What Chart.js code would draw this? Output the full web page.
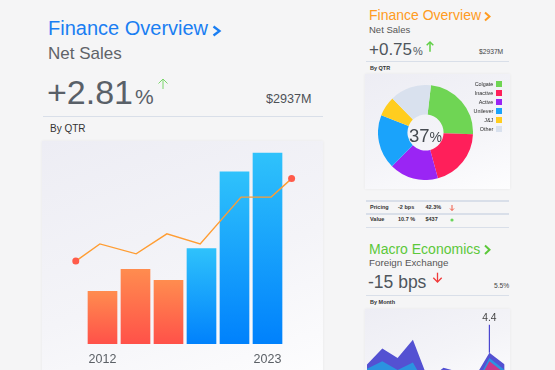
<!DOCTYPE html>
<html>
<head>
<meta charset="utf-8">
<script src="https://cdn.jsdelivr.net/npm/chart.js@4.4.1/dist/chart.umd.min.js"></script>
<style>
    html, body {
        margin: 0;
        padding: 0;
        width: 555px;
        height: 370px;
        overflow: hidden;
        background: #f5f5f6;
        font-family: "Liberation Sans", Arial, sans-serif;
    }
    .t {
        position: absolute;
        line-height: 1;
        white-space: nowrap;
    }
    .card {
        position: absolute;
        background: linear-gradient(160deg, #ededf4 0%, #f4f4f8 55%, #fdfdfe 100%);
        box-shadow: 0 0 3px rgba(0, 0, 0, 0.06);
    }
    .rule {
        position: absolute;
        height: 1px;
        background: #d9dfe9;
    }
    canvas {
        position: absolute;
    }
    .legend-row {
        position: absolute;
        left: 430px;
        width: 72px;
        height: 9px;
        display: flex;
        justify-content: flex-end;
        align-items: center;
        font-size: 5.4px;
        color: #2a2a2a;
    }
    .legend-row span.box {
        display: inline-block;
        width: 5.7px;
        height: 5.3px;
        margin-left: 3px;
    }
    .small {
        font-size: 5.5px;
        color: #333;
        font-weight: bold;
    }
</style>
</head>
<body>

<!-- main card -->
<div class="t" style="left:48px; top:18px; font-size:20px; color:#1a7ef2;">Finance Overview</div>
<div class="t" style="left:48px; top:44.5px; font-size:17px; color:#606368;">Net Sales</div>
<div class="t" style="left:47px; top:74.8px; font-size:34px; color:#596068;">+2.81<span style="font-size:21px; margin-left:2px;">%</span></div>
<div class="t" style="left:266px; top:92.7px; font-size:12.6px; color:#4d5157;">$2937M</div>
<div class="rule" style="left:43px; top:116px; width:280px;"></div>
<div class="t" style="left:50px; top:123.7px; font-size:10px; color:#333;">By QTR</div>
<div class="card" style="left:42px; top:141px; width:281px; height:240px;"></div>
<canvas id="salesChart" width="281" height="237" style="left:42px; top:141px;"></canvas>

<!-- right column: pie -->
<div class="t" style="left:369px; top:8.2px; font-size:14px; color:#ff9b22;">Finance Overview</div>
<div class="t" style="left:369px; top:24.5px; font-size:9.5px; color:#555;">Net Sales</div>
<div class="t" style="left:369px; top:41.1px; font-size:17px; color:#4f555c;">+0.75<span style="font-size:11px; margin-left:1px;">%</span></div>
<div class="t" style="left:479px; top:49.1px; font-size:6.7px; color:#444;">$2937M</div>
<div class="rule" style="left:366px; top:61px; width:143px;"></div>
<div class="t small" style="left:370px; top:66px;">By QTR</div>
<div class="card" style="left:365px; top:74px; width:145px; height:115px;"></div>
<canvas id="shareChart" width="95" height="95" style="left:378px; top:85px;"></canvas>
<div id="shareLegend"></div>

<!-- table -->
<div class="rule" style="left:366px; top:200px; width:143px; height:1.5px;"></div>
<div class="rule" style="left:366px; top:213px; width:143px; height:1.5px;"></div>
<div class="rule" style="left:366px; top:226.5px; width:143px; height:1.5px;"></div>
<div class="t small" style="left:370px; top:205px;">Pricing</div>
<div class="t small" style="left:398px; top:205px;">-2 bps</div>
<div class="t small" style="left:425.5px; top:205px;">42.3%</div>
<div class="t small" style="left:370px; top:217.3px;">Value</div>
<div class="t small" style="left:398px; top:217.3px;">10.7 %</div>
<div class="t small" style="left:425.5px; top:217.3px;">$437</div>

<!-- right column: macro -->
<div class="t" style="left:369px; top:242.2px; font-size:14px; color:#5cc83a;">Macro Economics</div>
<div class="t" style="left:369px; top:258px; font-size:9.8px; color:#555;">Foreign Exchange</div>
<div class="t" style="left:368px; top:273.5px; font-size:17.5px; color:#4f555c;">-15 bps</div>
<div class="t" style="left:494px; top:283.4px; font-size:6.7px; color:#444;">5.5%</div>
<div class="rule" style="left:366px; top:295px; width:143px;"></div>
<div class="t small" style="left:370px; top:300.3px;">By Month</div>
<div class="card" style="left:365px; top:309px; width:145px; height:80px;"></div>
<canvas id="fxChart" width="145" height="91" style="left:365px; top:309px;"></canvas>

<!-- chevrons and arrows -->
<svg width="555" height="370" style="position:absolute; left:0; top:0; pointer-events:none;">
    <polyline points="213.5,26.5 219.5,31 213.5,35.5" fill="none" stroke="#1a7ef2" stroke-width="2.3"/>
    <polyline points="485,12.5 489.5,16.5 485,20.5" fill="none" stroke="#ff9b22" stroke-width="2"/>
    <polyline points="485,245.5 489.5,249.7 485,254" fill="none" stroke="#5cc83a" stroke-width="2"/>
    <g fill="none" stroke="#7ad66a" stroke-width="1">
        <line x1="163" y1="89" x2="163" y2="79"/>
        <polyline points="158.5,83.5 163,79 167.5,83.5"/>
    </g>
    <g fill="none" stroke="#5fcf45" stroke-width="1.5">
        <line x1="430" y1="51.7" x2="430" y2="42"/>
        <polyline points="426.7,45.3 430,42 433.3,45.3"/>
    </g>
    <g fill="none" stroke="#f03a3a" stroke-width="1.3">
        <line x1="437.5" y1="272.7" x2="437.5" y2="282"/>
        <polyline points="433.3,277.8 437.5,282 441.7,277.8"/>
    </g>
    <g fill="none" stroke="#f05a45" stroke-width="1">
        <line x1="452" y1="205" x2="452" y2="210.5"/>
        <polyline points="450,208.5 452,210.5 454,208.5"/>
    </g>
    <circle cx="452" cy="220" r="1.6" fill="#6ad55a"/>
</svg>

<script>
// net sales by quarter (bars) and trend (line)
const periods = [1, 2, 3, 4, 5, 6];
const salesValues = [2.76, 3.91, 3.33, 5.0, 9.01, 10.0];
const tickPeriods = [1, 6];
const tickLabels = ["2012", "2023"];
const trendX = [0.19, 0.92, 2.02, 2.95, 3.96, 5.2, 6.11, 6.73];
const trendValues = [4.34, 5.24, 4.72, 5.77, 5.24, 7.69, 7.69, 8.66];
const recentFrom = 3; // bars from this index on are the recent (blue) ones

// share by company
const shareLabels = ["Colgate", "Inactive", "Active", "Unilever", "J&J", "Other"];
const shareValues = [23.8, 20.2, 16.7, 18.5, 6.8, 14.1];
const shareColors = ["#6fd554", "#ff1f5a", "#9a25f4", "#1aa3fb", "#ffcd1f", "#d9e1ee"];
const shareCenter = 37;

// foreign exchange by month
const months = ["Jan", "Feb", "Mar", "Apr", "May", "Jun", "Jul", "Aug", "Sep", "Oct"];
const fxTotal = [3.3, 4.8, 3.9, 5.6, 1.9, 3.0, 2.6, 2.0, 4.4, 3.3];
const fxMid = [2.9, 3.6, 2.8, 3.5, 1.0, 1.5, 1.5, 1.2, 3.9, 2.8];
const fxLow = [0.8, 0.9, 0.7, 0.8, 0.5, 0.6, 0.7, 1.0, 3.6, 2.5];
const markedMonth = "Sep";

function barGradient(context) {
    const chart = context.chart;
    if (!chart.chartArea || context.type !== "data") {
        return "#1a9cfb";
    }
    const i = context.dataIndex;
    const yTop = chart.scales.y.getPixelForValue(salesValues[i]);
    const yBottom = chart.scales.y.getPixelForValue(0);
    const g = chart.ctx.createLinearGradient(0, yTop, 0, yBottom);
    if (i < recentFrom) {
        g.addColorStop(0, "#ff8c4f");
        g.addColorStop(1, "#ff5149");
    } else {
        g.addColorStop(0, "#2fc2fb");
        g.addColorStop(1, "#0081fc");
    }
    return g;
}

const lastTrend = trendValues.length - 1;

new Chart(document.getElementById("salesChart"), {
    type: "bar",
    data: {
        datasets: [
            {
                type: "line",
                data: trendX.map((x, i) => ({ x: x, y: trendValues[i] })),
                borderColor: "#ff9d33",
                borderWidth: 1.4,
                tension: 0,
                pointRadius: ctx => (ctx.dataIndex === 0 || ctx.dataIndex === lastTrend ? 3.5 : 0),
                pointBackgroundColor: "#ff5b4a",
                pointBorderWidth: 0,
                order: 0,
            },
            {
                type: "bar",
                data: periods.map((p, i) => ({ x: p, y: salesValues[i] })),
                backgroundColor: barGradient,
                borderWidth: 0,
                barThickness: 29,
                order: 1,
            },
        ],
    },
    options: {
        responsive: false,
        animation: false,
        devicePixelRatio: 1,
        layout: {
            padding: { left: 27.5, right: 22.5, top: 0, bottom: 3 },
        },
        plugins: {
            legend: { display: false },
            tooltip: { enabled: false },
        },
        scales: {
            x: {
                type: "linear",
                min: 0,
                max: 7,
                offset: false,
                grid: { display: false, drawTicks: false, tickLength: 0 },
                border: { display: false },
                afterBuildTicks: axis => {
                    axis.ticks = tickPeriods.map(v => ({ value: v }));
                },
                ticks: {
                    autoSkip: false,
                    maxRotation: 0,
                    padding: 8,
                    color: "#5b6066",
                    font: { family: "Liberation Sans", size: 12.5 },
                    callback: value => tickLabels[tickPeriods.indexOf(value)] || "",
                },
            },
            y: {
                display: false,
                min: 0,
                max: 10.42,
            },
        },
    },
});

const centerText = {
    id: "centerText",
    afterDatasetsDraw(chart) {
        const ctx = chart.ctx;
        const arc = chart.getDatasetMeta(0).data[0];
        const cx = arc.x;
        const cy = arc.y;
        ctx.save();
        ctx.fillStyle = "#454a50";
        ctx.textBaseline = "alphabetic";
        ctx.font = "18.5px 'Liberation Sans'";
        const main = String(shareCenter);
        const wMain = ctx.measureText(main).width;
        ctx.font = "14px 'Liberation Sans'";
        const wPct = ctx.measureText("%").width;
        const startX = cx - (wMain + wPct) / 2;
        ctx.font = "18.5px 'Liberation Sans'";
        ctx.textAlign = "left";
        ctx.fillText(main, startX, cy + 9.2);
        ctx.font = "14px 'Liberation Sans'";
        ctx.fillText("%", startX + wMain, cy + 9.2);
        ctx.restore();
    },
};

new Chart(document.getElementById("shareChart"), {
    type: "doughnut",
    data: {
        labels: shareLabels,
        datasets: [{
            data: shareValues,
            backgroundColor: shareColors,
            borderWidth: 0,
            hoverOffset: 0,
        }],
    },
    options: {
        responsive: false,
        animation: false,
        devicePixelRatio: 1,
        rotation: 6.6,
        cutout: "38%",
        plugins: {
            legend: { display: false },
            tooltip: { enabled: false },
        },
    },
    plugins: [centerText],
});

const legendEl = document.getElementById("shareLegend");
shareLabels.forEach((label, i) => {
    const row = document.createElement("div");
    row.className = "legend-row";
    row.style.top = (79.5 + i * 9) + "px";
    const text = document.createElement("span");
    text.textContent = label;
    const box = document.createElement("span");
    box.className = "box";
    box.style.background = shareColors[i];
    row.appendChild(text);
    row.appendChild(box);
    legendEl.appendChild(row);
});

const peakMarker = {
    id: "peakMarker",
    afterDatasetsDraw(chart) {
        const i = months.indexOf(markedMonth);
        const x = chart.scales.x.getPixelForValue(i);
        const yPoint = chart.scales.y.getPixelForValue(fxTotal[i]);
        const yTop = chart.scales.y.getPixelForValue(7);
        const ctx = chart.ctx;
        ctx.save();
        ctx.strokeStyle = "#4b47d0";
        ctx.lineWidth = 1.2;
        ctx.beginPath();
        ctx.moveTo(x, yPoint);
        ctx.lineTo(x, yTop);
        ctx.stroke();
        ctx.fillStyle = "#444";
        ctx.font = "10.3px 'Liberation Sans'";
        ctx.textAlign = "center";
        ctx.textBaseline = "middle";
        ctx.fillText(fxTotal[i].toFixed(1), x, chart.scales.y.getPixelForValue(7.6));
        ctx.restore();
    },
};

new Chart(document.getElementById("fxChart"), {
    type: "line",
    data: {
        labels: months,
        datasets: [
            { data: fxTotal, backgroundColor: "#5451d2", fill: "origin", order: 3 },
            { data: fxMid, backgroundColor: "#2b93e0", fill: "origin", order: 2 },
            { data: fxLow, backgroundColor: "#c8388a", fill: "origin", order: 1 },
        ],
    },
    options: {
        responsive: false,
        animation: false,
        devicePixelRatio: 1,
        layout: {
            padding: { left: 2, right: 5.3, top: 5, bottom: 0 },
        },
        elements: {
            line: { borderWidth: 0, tension: 0 },
            point: { radius: 0 },
        },
        plugins: {
            legend: { display: false },
            tooltip: { enabled: false },
        },
        scales: {
            x: { display: false },
            y: { display: false, min: 0, max: 8 },
        },
    },
    plugins: [peakMarker],
});
</script>
</body>
</html>
